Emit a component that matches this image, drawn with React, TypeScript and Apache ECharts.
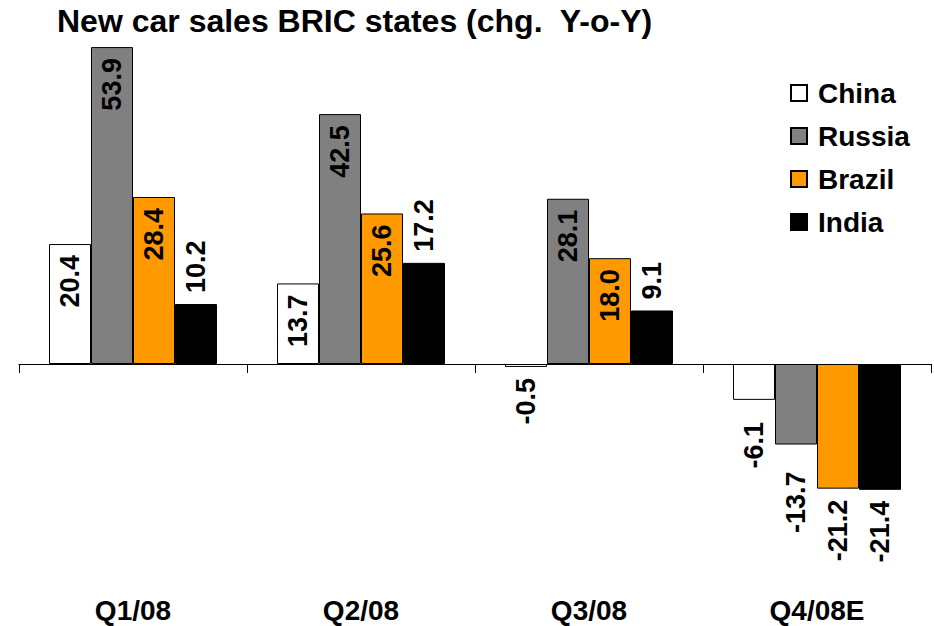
import React, { useEffect, useRef } from "react";
import * as echarts from "echarts";

const FONT = "'Liberation Sans', Arial, Helvetica, sans-serif";

const titleText = "New car sales BRIC states (chg.  Y-o-Y)";
const categories = ["Q1/08", "Q2/08", "Q3/08", "Q4/08E"];
const seriesNames = ["China", "Russia", "Brazil", "India"];
const china = [20.4, 13.7, -0.5, -6.1];
const russia = [53.9, 42.5, 28.1, -13.7];
const brazil = [28.4, 25.6, 18.0, -21.2];
const india = [10.2, 17.2, 9.1, -21.4];
const seriesValues = [china, russia, brazil, india];
const seriesColors = ["#FFFFFF", "#808080", "#FF9900", "#000000"];

// label gaps (style only)
const defaultGap = 11;
const gapOverrides: Record<string, number> = { "0-3": 22, "1-3": 27 };

function makeLabel(v: number, si: number, i: number) {
  const distance = gapOverrides[`${si}-${i}`] ?? defaultGap;
  if (v < 0) {
    return { position: "bottom", align: "right", verticalAlign: "middle", distance };
  }
  if (si === 3) {
    return { position: "top", align: "left", verticalAlign: "middle", distance };
  }
  return { position: "insideTop", align: "right", verticalAlign: "middle", distance };
}

export default function App() {
  const ref = useRef<HTMLDivElement>(null);
  useEffect(() => {
    if (!ref.current) return;
    const chart = echarts.init(ref.current, undefined, { renderer: "svg" });
    const option: any = {
      animation: false,
      title: {
        text: titleText,
        left: 57,
        top: 5,
        padding: 0,
        textStyle: { fontFamily: FONT, fontSize: 32, fontWeight: "bold", color: "#000" },
      },
      legend: {
        orient: "vertical",
        left: 790,
        top: 79,
        padding: 0,
        itemWidth: 16,
        itemHeight: 16,
        itemGap: 15,
        icon: "rect",
        data: seriesNames,
        textStyle: {
          fontFamily: FONT,
          fontSize: 28,
          fontWeight: "bold",
          color: "#000",
          padding: [0, 0, 0, 6],
        },
      },
      grid: { left: 19, right: 3, top: 11.2, bottom: 85.6, containLabel: false },
      xAxis: [
        {
          type: "category",
          data: categories,
          position: "bottom",
          axisLine: { show: true, onZero: true, lineStyle: { color: "#000", width: 1 } },
          axisTick: { show: true, length: 9, lineStyle: { color: "#000", width: 1 } },
          axisLabel: { show: false },
          splitLine: { show: false },
        },
        {
          type: "category",
          data: categories,
          position: "bottom",
          axisLine: { show: false, onZero: false },
          axisTick: { show: false },
          splitLine: { show: false },
          axisLabel: {
            fontFamily: FONT,
            fontSize: 28,
            fontWeight: "bold",
            color: "#000",
            margin: 56,
          },
        },
      ],
      yAxis: {
        type: "value",
        min: -30,
        max: 60,
        show: false,
        splitLine: { show: false },
      },
      series: seriesNames.map((name, si) => ({
        name,
        type: "bar",
        xAxisIndex: 0,
        barWidth: 42,
        barGap: "0%",
        itemStyle: { color: seriesColors[si], borderColor: "#000", borderWidth: 1 },
        label: {
          show: true,
          rotate: 90,
          fontFamily: FONT,
          fontSize: 27,
          fontWeight: "bold",
          color: "#000",
          formatter: (p: any) => Number(p.value).toFixed(1),
        },
        data: seriesValues[si].map((v, i) => ({ value: v, label: makeLabel(v, si, i) })),
      })),
    };
    chart.setOption(option);
    return () => chart.dispose();
  }, []);
  return (
    <div
      ref={ref}
      style={{ position: "fixed", left: 0, top: 0, width: 934, height: 626, background: "#fff" }}
    />
  );
}
